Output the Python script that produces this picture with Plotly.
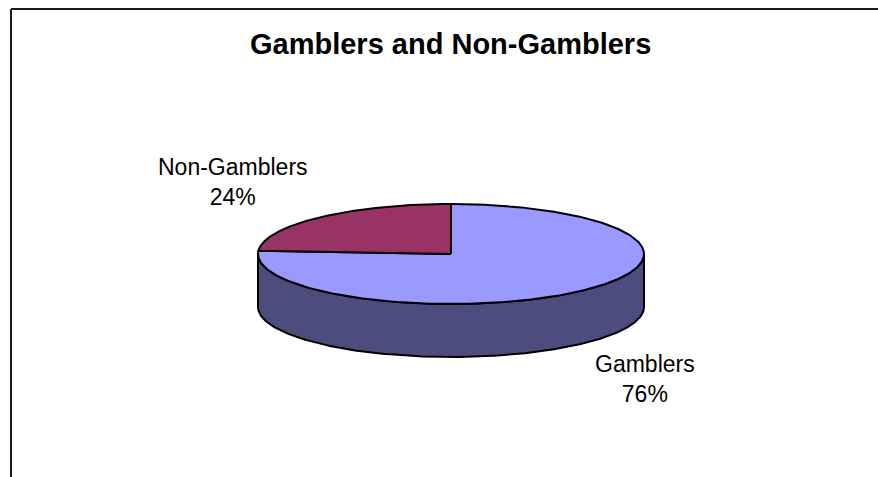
import numpy as np
import plotly.graph_objects as go

# ---- data ----
categories = ["Gamblers", "Non-Gamblers"]
values = [76, 24]
colors = ["#9999FF", "#993366"]
title_text = "Gamblers and Non-Gamblers"

# ---- layout geometry (pixel space) ----
W, H = 878, 477
CX, CY = 451, 254       # centre of top ellipse
RX, RY = 193, 50        # ellipse radii
DEPTH = 53              # pie thickness
START = 90              # first slice starts at 12 o'clock, clockwise
LABEL_POS = {"Gamblers": (645, 379), "Non-Gamblers": (233, 182)}
FONT = "Liberation Sans, Arial, sans-serif"


def shade(hexc, f=0.5):
    h = hexc.lstrip("#")
    r, g, b = (int(h[i:i + 2], 16) for i in (0, 2, 4))
    return "#%02x%02x%02x" % (int(r * f), int(g * f), int(b * f))


def ell(theta_deg, dz=0.0):
    t = np.radians(theta_deg)
    return CX + RX * np.cos(t), CY - RY * np.sin(t) + dz


total = float(sum(values))
spans = []
cur = START
for v in values:
    sweep = 360.0 * v / total
    spans.append((cur - sweep, cur))
    cur -= sweep

fig = go.Figure()

# side walls (only front half, angles -180..0, is visible)
for (a0, a1), col in zip(spans, colors):
    for k in (-360, 0, 360):
        lo, hi = max(a0 + k, -180), min(a1 + k, 0)
        if hi > lo:
            th = np.linspace(lo, hi, 300)
            xt, yt = ell(th)
            xb, yb = ell(th[::-1], DEPTH)
            xs = np.concatenate([xt, xb, xt[:1]])
            ys = np.concatenate([yt, yb, yt[:1]])
            fig.add_trace(go.Scatter(x=xs, y=ys, mode="lines", fill="toself",
                                     fillcolor=shade(col), line=dict(color="black", width=2),
                                     hoverinfo="skip", showlegend=False))

# top faces
for (a0, a1), col, name in zip(spans, colors, categories):
    th = np.linspace(a1, a0, 400)
    xa, ya = ell(th)
    xs = np.concatenate([[CX], xa, [CX]])
    ys = np.concatenate([[CY], ya, [CY]])
    fig.add_trace(go.Scatter(x=xs, y=ys, mode="lines", fill="toself",
                             fillcolor=col, line=dict(color="black", width=2),
                             hoverinfo="skip", showlegend=False, name=name))

annotations = []
for name, v in zip(categories, values):
    lx, ly = LABEL_POS[name]
    annotations.append(dict(x=lx, y=ly, xref="x", yref="y", showarrow=False,
                            text=f"{name}<br>{round(100 * v / total)}%",
                            font=dict(family=FONT, size=23, color="black"),
                            xanchor="center", yanchor="middle", align="center"))
annotations.append(dict(x=450, y=44, xref="x", yref="y", showarrow=False,
                        text=f"<b>{title_text}</b>",
                        font=dict(family=FONT, size=29, color="black"),
                        xanchor="center", yanchor="middle"))

shapes = [
    dict(type="line", xref="x", yref="y", x0=11, y0=9, x1=W + 20, y1=9,
         line=dict(color="#1a1a1a", width=2)),
    dict(type="line", xref="x", yref="y", x0=11, y0=9, x1=11, y1=H + 20,
         line=dict(color="#1a1a1a", width=2)),
]

fig.update_layout(
    width=W, height=H, margin=dict(l=0, r=0, t=0, b=0),
    paper_bgcolor="white", plot_bgcolor="white",
    xaxis=dict(range=[0, W], visible=False, fixedrange=True),
    yaxis=dict(range=[H, 0], visible=False, fixedrange=True),
    annotations=annotations, shapes=shapes, showlegend=False,
)

fig.write_html("out.html")
